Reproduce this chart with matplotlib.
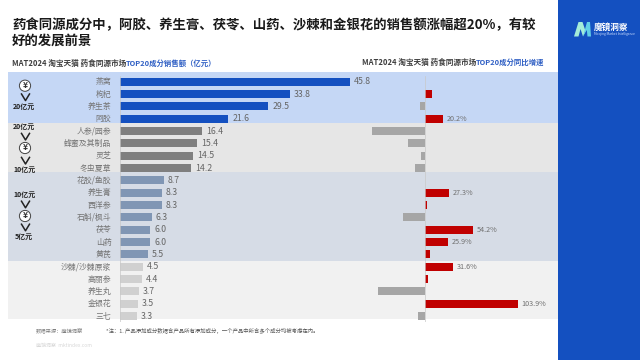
import matplotlib
matplotlib.use('Agg')
import matplotlib.pyplot as plt
from matplotlib.patches import Rectangle, Circle, Polygon

plt.rcParams['font.family'] = ['Noto Sans CJK SC', 'DejaVu Sans']

names = ['燕窝', '枸杞', '养生茶', '阿胶', '人参/园参', '蜂蜜及其制品', '灵芝', '冬虫夏草',
         '花胶/鱼胶', '养生膏', '西洋参', '石斛/枫斗', '茯苓', '山药', '黄芪',
         '沙棘/沙棘原浆', '高丽参', '养生丸', '金银花', '三七']
sales = [45.8, 33.8, 29.5, 21.6, 16.4, 15.4, 14.5, 14.2, 8.7, 8.3, 8.3, 6.3, 6.0, 6.0, 5.5,
         4.5, 4.4, 3.7, 3.5, 3.3]
growth = [-0.5, 7.4, -5.6, 20.2, -59.5, -19, -4.8, -11, 0, 27.3, 2.6, -25, 54.2, 25.9, 6,
          31.6, 3.7, -53, 103.9, -7.4]
growth_labels = {3: '20.2%', 9: '27.3%', 12: '54.2%', 13: '25.9%', 15: '31.6%', 18: '103.9%'}
# colour of the sales bars per tier, (first row, last row, band colour, bar colour)
tiers = [(0, 3, '#c5d7f5', '#1450c0'),
         (4, 7, '#e6e6e6', '#7f7f7f'),
         (8, 14, '#d6dce6', '#8096b4'),
         (15, 19, '#f1f1f1', '#d0d0d0')]
band_edges = [72, 123, 172, 261, 319]

fig = plt.figure(figsize=(6.4, 3.6), dpi=100, facecolor='white')

# overlay in pixel coordinates for the slide furniture
bg = fig.add_axes([0, 0, 1, 1])
bg.set_xlim(0, 640)
bg.set_ylim(360, 0)
bg.axis('off')

for i, t in enumerate(tiers):
    bg.add_patch(Rectangle((7.5, band_edges[i]), 550, band_edges[i + 1] - band_edges[i], fc=t[2], ec='none'))
bg.add_patch(Rectangle((557.5, 0), 82.5, 360, fc='#1450c0', ec='none'))

bg.text(12, 25, '药食同源成分中，阿胶、养生膏、茯苓、山药、沙棘和金银花的销售额涨幅超20%，有较', fontsize=9.65,
        fontweight='bold', color='#1a1a1a', va='center')
bg.text(12, 40.5, '好的发展前景', fontsize=9.65, fontweight='bold', color='#1a1a1a', va='center')

bg.text(12, 63, 'MAT2024 淘宝天猫 药食同源市场', fontsize=5.5, fontweight='bold', color='#404040', va='center')
bg.text(125.5, 63, 'TOP20成分销售额（亿元）', fontsize=5.35, fontweight='bold', color='#2f5fc4', va='center')
bg.text(362, 62.5, 'MAT2024 淘宝天猫 药食同源市场', fontsize=5.5, fontweight='bold', color='#404040', va='center')
bg.text(475.5, 62.5, 'TOP20成分同比增速', fontsize=5.35, fontweight='bold', color='#2f5fc4', va='center')

# bars on the left
ax = fig.add_axes([120 / 640, 1 - 322.2 / 360, 240 / 640, 246.6 / 360])
ax.set_xlim(0, 240 / 5.02)
ax.set_ylim(19.5, -0.5)
ax.axis('off')
for first, last, band, col in tiers:
    rows = range(first, last + 1)
    ax.barh(list(rows), [sales[r] for r in rows], height=0.64, color=col)
for i, v in enumerate(sales):
    ax.text(v + 0.8, i, '%.1f' % v, fontsize=6.3, color='#666666', va='center')
    ax.text(-1.7, i, names[i], fontsize=5.7, color='#737373', va='center', ha='right')
ax.axvline(0, color='#c8c8c8', lw=0.5)

# growth bars on the right
ax2 = fig.add_axes([355 / 640, 1 - 322.2 / 360, 195 / 640, 246.6 / 360])
ax2.set_xlim(-70 / 0.892, 125 / 0.892)
ax2.set_ylim(19.5, -0.5)
ax2.axis('off')
ax2.barh(range(len(growth)), growth, height=0.64,
         color=['#c00000' if g > 0 else '#a6a6a6' for g in growth])
ax2.axvline(0, color='#c8c8c8', lw=0.5)
for i, lab in growth_labels.items():
    ax2.text(growth[i] + 4, i, lab, fontsize=5.2, color='#707070', va='center')


def yen(y):
    bg.add_patch(Circle((25, y), 5.6, fc='white', ec='#444444', lw=0.7))
    bg.text(25, y, '¥', fontsize=6, fontweight='bold', color='#333333', ha='center', va='center')


def chevron(y):
    bg.plot([21.5, 25.5, 29.5], [y - 3.3, y + 3.3, y - 3.3], color='#222222', lw=1.1)


def tier_label(y, s):
    bg.text(24.3, y, s, fontsize=5, fontweight='bold', color='#222222', ha='center', va='center')


yen(85.7)
chevron(97.3)
tier_label(107, '20亿元')
tier_label(126.7, '20亿元')
chevron(136.7)
yen(148)
chevron(160.7)
tier_label(169.3, '10亿元')
tier_label(195, '10亿元')
chevron(204.5)
yen(216)
chevron(227.5)
tier_label(237, '5亿元')

bg.text(36, 331, '数据来源：魔镜洞察', fontsize=3.8, color='#808080', va='center')
bg.text(106, 331, '*注：1. 产品添加成分数据含产品所有添加成分，一个产品中所含多个成分均被考虑在内。', fontsize=3.9,
        color='#555555', va='center')
bg.text(36, 345, '魔镜洞察  mktindex.com', fontsize=3.6, color='#d8d8d8', va='center')

# logo
bg.add_patch(Polygon([(574, 36.5), (578.5, 22), (582.5, 22), (585.5, 31), (583, 36.5), (580.5, 29), (578.5, 36.5)],
                     fc='#a5ecd8', ec='none'))
bg.add_patch(Polygon([(583, 36.5), (587, 22), (590, 22), (591, 36.5), (587.5, 36.5), (586.8, 30)],
                     fc='#62cfe8', ec='none'))
bg.text(593.5, 27, '魔镜洞察', fontsize=6.2, color='white', fontweight='bold', va='center')
bg.text(593.5, 33.5, 'Moojing Market Intelligence', fontsize=2.3, color='#cfe0ff', va='center')

fig.savefig('out.png', dpi=100)
